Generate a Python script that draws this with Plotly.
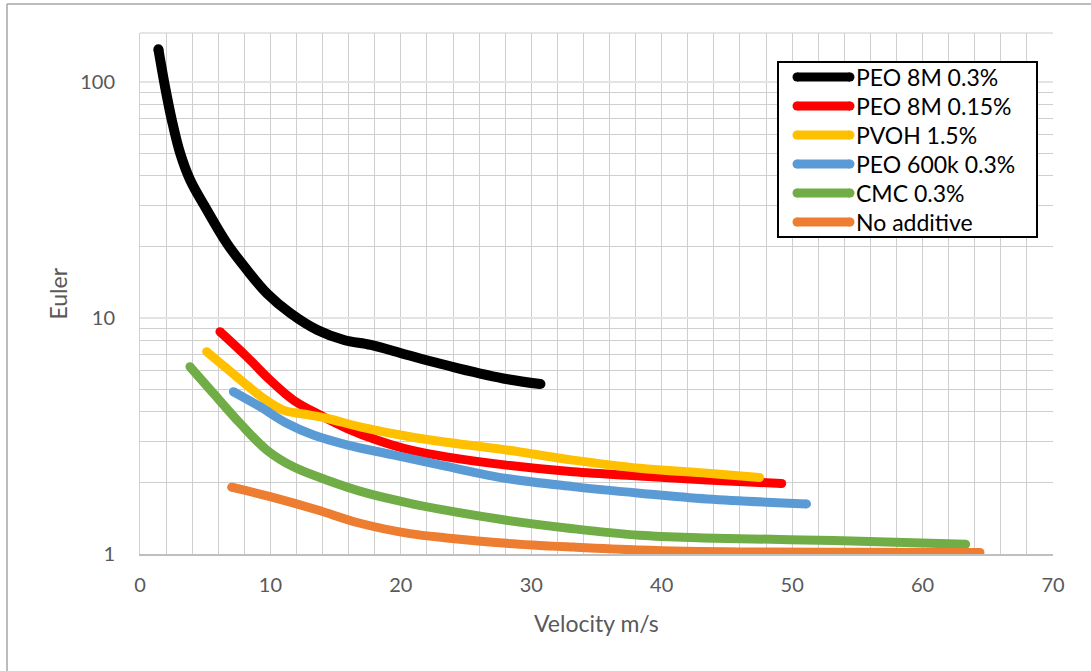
import plotly.graph_objects as go

# ---- data ----
series_names = ["PEO 8M 0.3%", "PEO 8M 0.15%", "PVOH 1.5%", "PEO 600k 0.3%", "CMC 0.3%", "No additive"]

black_v = [1.41, 1.92, 2.44, 3.08, 3.85, 5.13, 6.67, 8.2, 9.74, 11.54, 13.6, 15.64, 17.7, 20.5, 24.4, 28.2, 30.7]
black_e = [137.6, 95.5, 69.0, 49.9, 38.4, 28.7, 20.7, 16.0, 12.7, 10.47, 8.89, 8.07, 7.69, 6.97, 6.12, 5.50, 5.25]

red_v = [6.13, 8.18, 9.97, 11.76, 13.8, 15.85, 18.15, 20.7, 23.5, 28.1, 33.2, 38.3, 43.5, 49.2]
red_e = [8.75, 6.86, 5.46, 4.49, 3.88, 3.41, 3.04, 2.76, 2.58, 2.38, 2.23, 2.14, 2.06, 1.99]

yellow_v = [5.11, 7.41, 9.46, 10.99, 12.52, 14.3, 16.87, 20.7, 23.8, 28.1, 33.2, 38.3, 43.5, 47.5]
yellow_e = [7.20, 5.64, 4.57, 4.07, 3.92, 3.76, 3.46, 3.14, 2.96, 2.76, 2.50, 2.31, 2.20, 2.11]

blue_v = [7.16, 9.2, 11.25, 13.3, 15.85, 19.4, 23.5, 28.1, 33.2, 38.3, 43.5, 51.1]
blue_e = [4.87, 4.21, 3.58, 3.19, 2.90, 2.63, 2.35, 2.09, 1.93, 1.81, 1.71, 1.63]

green_v = [3.83, 5.62, 7.67, 9.71, 11.76, 14.3, 17.4, 20.7, 23.5, 28.1, 33.2, 38.3, 43.2, 53.2, 63.3]
green_e = [6.22, 4.80, 3.58, 2.76, 2.34, 2.06, 1.81, 1.64, 1.53, 1.39, 1.28, 1.20, 1.17, 1.14, 1.10]

orange_v = [7.03, 9.97, 13.55, 16.87, 20.7, 23.5, 28.1, 33.2, 38.3, 46.0, 55.0, 64.4]
orange_e = [1.92, 1.75, 1.54, 1.35, 1.22, 1.17, 1.11, 1.07, 1.04, 1.02, 1.017, 1.015]

y_tick_vals = [1, 10, 100]
y_tick_text = ["1", "10", "100"]
y_minor_vals = [2, 3, 4, 5, 6, 7, 8, 9, 20, 30, 40, 50, 60, 70, 80, 90]

colors = ["#000000", "#FF0000", "#FFC000", "#5B9BD5", "#70AD47", "#ED7D31"]
widths = [10, 9, 9, 9, 9, 9]

xs = [black_v, red_v, yellow_v, blue_v, green_v, orange_v]
ys = [black_e, red_e, yellow_e, blue_e, green_e, orange_e]

FONT = "Lato, 'Open Sans', sans-serif"
GRAY = "#595959"

# ---- layout geometry (pixels) ----
W, H = 1091, 671
L, R, T, B = 140, 38, 33, 117
PW, PH = W - L - R, H - T - B


def px(xp):
    return (xp - L) / PW


def py(yp):
    return (H - B - yp) / PH


fig = go.Figure()
for name, x, y, c, w in zip(series_names, xs, ys, colors, widths):
    fig.add_trace(go.Scatter(
        x=x, y=y, name=name, mode="lines", showlegend=False,
        line=dict(color=c, width=w, shape="spline", smoothing=1.0),
    ))
    # round caps at the ends
    fig.add_trace(go.Scatter(
        x=[x[0], x[-1]], y=[y[0], y[-1]], mode="markers", showlegend=False,
        hoverinfo="skip", marker=dict(color=c, size=w, line=dict(width=0)),
    ))

shapes = [
    # chart-area border (top & left visible)
    dict(type="line", xref="paper", yref="paper", x0=px(7), x1=px(W + 5),
         y0=py(4), y1=py(4), line=dict(color="#a6a6a6", width=1.5)),
    dict(type="line", xref="paper", yref="paper", x0=px(7), x1=px(7),
         y0=py(4), y1=py(H + 5), line=dict(color="#a6a6a6", width=1.5)),
    # plot-area top edge
    dict(type="line", xref="paper", yref="paper", x0=0, x1=1,
         y0=1, y1=1, line=dict(color="#dcdcdc", width=1.5), layer="below"),
    # legend box
    dict(type="rect", xref="paper", yref="paper", x0=px(778), x1=px(1037),
         y0=py(62), y1=py(237), fillcolor="white",
         line=dict(color="black", width=2), layer="above"),
]

annotations = [
    dict(text="Euler", xref="paper", yref="paper", x=px(57), y=0.5,
         textangle=-90, showarrow=False, font=dict(size=23, color=GRAY),
         xanchor="center", yanchor="middle"),
    dict(text="Velocity m/s", xref="paper", yref="paper", x=0.5, y=py(623),
         showarrow=False, font=dict(size=23, color=GRAY),
         xanchor="center", yanchor="middle"),
]

# legend entries
sx0, sx1, lw = 797, 850, 9
for i, (name, c) in enumerate(zip(series_names, colors)):
    yc = 77 + 29 * i
    shapes.append(dict(type="line", xref="paper", yref="paper",
                       x0=px(sx0), x1=px(sx1), y0=py(yc), y1=py(yc),
                       line=dict(color=c, width=lw), layer="above"))
    for cx in (sx0, sx1):
        shapes.append(dict(type="circle", xref="paper", yref="paper",
                           x0=px(cx - lw / 2), x1=px(cx + lw / 2),
                           y0=py(yc - lw / 2), y1=py(yc + lw / 2),
                           fillcolor=c, line=dict(width=0), layer="above"))
    annotations.append(dict(text=name, xref="paper", yref="paper",
                            x=px(854), y=py(yc), xanchor="left", yanchor="middle",
                            showarrow=False,
                            font=dict(family=FONT, size=23, color="black")))

fig.update_layout(
    width=W, height=H,
    margin=dict(l=L, r=R, t=T, b=B),
    paper_bgcolor="white", plot_bgcolor="white",
    font=dict(family=FONT, color=GRAY),
    showlegend=False,
    xaxis=dict(
        range=[0, 70], dtick=10, tick0=0,
        showgrid=True, gridcolor="#cfcfcf", gridwidth=1,
        minor=dict(dtick=2, showgrid=True, gridcolor="#cfcfcf", gridwidth=1),
        showline=True, linecolor="#bfbfbf", linewidth=2,
        ticks="", tickfont=dict(size=20, color=GRAY),
        ticklabelstandoff=12, zeroline=False,
    ),
    yaxis=dict(
        type="log", range=[0, 2.2076],
        tickmode="array", tickvals=y_tick_vals, ticktext=y_tick_text,
        showgrid=True, gridcolor="#e4e4e4", gridwidth=2,
        minor=dict(tickmode="array", tickvals=y_minor_vals, showgrid=True,
                   gridcolor="#cfcfcf", gridwidth=1),
        showline=True, linecolor="#d0d0d0", linewidth=1,
        ticks="", tickfont=dict(size=20, color=GRAY),
        ticklabelstandoff=20, zeroline=False,
    ),
    annotations=annotations,
    shapes=shapes,
)

fig.write_html("out.html", config={"displayModeBar": False},
               post_script="document.body.style.margin='0';")
